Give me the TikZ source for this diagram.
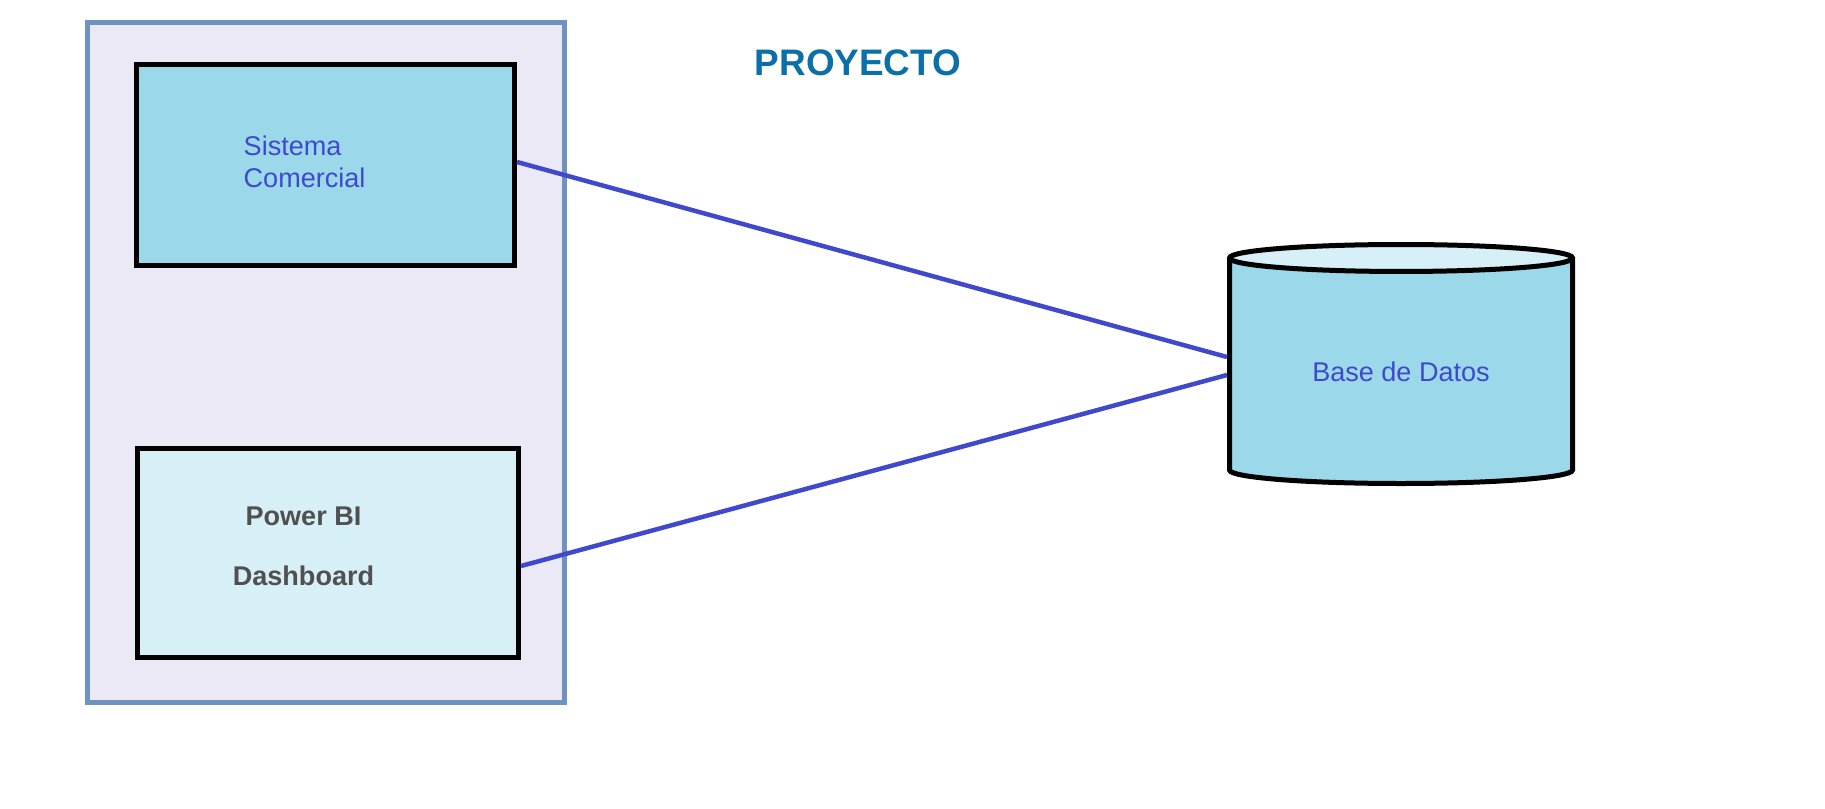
\documentclass[tikz,border=0pt]{standalone}
\usepackage{fontspec}
\setmainfont{Liberation Sans}
\usetikzlibrary{shapes.geometric}
\definecolor{frameblue}{HTML}{6F92C0}
\definecolor{framefill}{HTML}{EBE9F6}
\definecolor{boxcyan}{HTML}{9BD9EA}
\definecolor{boxlight}{HTML}{D7EFF6}
\definecolor{linkblue}{HTML}{4049CC}
\definecolor{titleblue}{HTML}{0B6FA9}
\definecolor{textgray}{HTML}{505050}

\begin{document}
\begin{tikzpicture}[
  box/.style={draw=black, line width=0.05cm, inner sep=0pt},
  lbl/.style={font=\fontsize{7.7}{9.1}\selectfont, text=linkblue, inner sep=0pt},
  link/.style={draw=linkblue, line width=0.045cm}]
  \useasboundingbox (0,0) rectangle (18.25,8.08);

  \node[draw=frameblue, fill=framefill, line width=0.05cm, inner sep=0pt,
    minimum width=4.77cm, minimum height=6.8cm] (proyecto) at (3.26,4.455) {};
  \node[box, fill=boxcyan, minimum width=3.78cm, minimum height=2.01cm] (sistema) at (3.255,6.43) {};
  \node[box, fill=boxlight, minimum width=3.81cm, minimum height=2.09cm] (dash) at (3.28,2.55) {};
  \node[lbl, anchor=west, align=left] (sistematxt) at (2.43,6.458) {Sistema\\Comercial};
  \node[lbl, text=textgray, font=\bfseries\fontsize{7.7}{17.07}\selectfont, align=center] (dashtxt)
    at (3.035,2.6175) {Power BI\\Dashboard};

  \node[cylinder, shape border rotate=90, aspect=0.152, draw=black, line width=0.05cm,
    cylinder uses custom fill, cylinder body fill=boxcyan, cylinder end fill=boxlight,
    minimum width=3.43cm, minimum height=2.39cm, lbl] (db) at (14.01,4.36) {Base de Datos};

  \node[anchor=base, inner sep=0pt, text=titleblue, font=\bfseries\fontsize{10.5}{12.6}\selectfont]
    (titulo) at (8.58,7.32) {PROYECTO};

  \draw[link] ([yshift=0.03cm]sistema.east) -- ([yshift=0.15cm]db.west);
  \draw[link] ([yshift=-0.13cm]dash.east) -- ([yshift=-0.03cm]db.west);
\end{tikzpicture}
\end{document}
